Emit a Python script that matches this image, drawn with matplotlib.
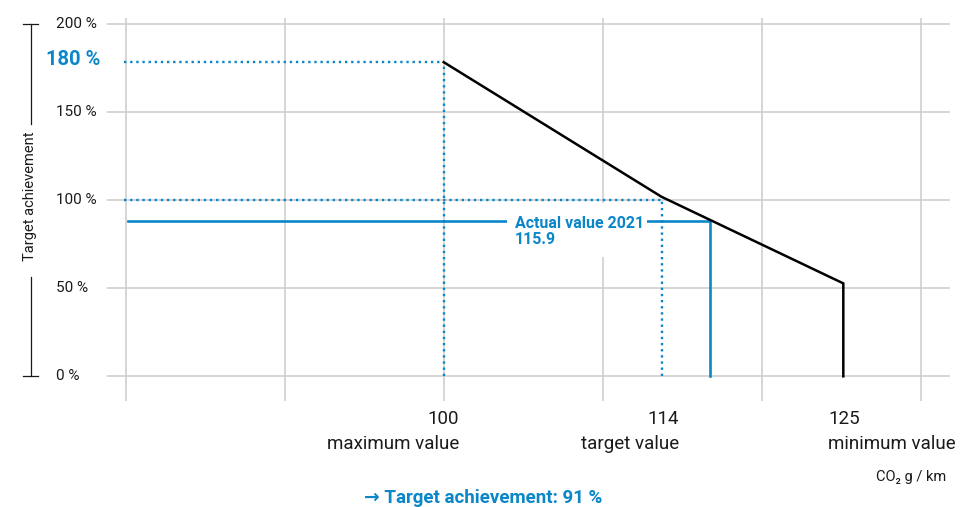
import matplotlib
matplotlib.use('Agg')
import matplotlib.pyplot as plt
import matplotlib.transforms as mtransforms
from matplotlib.patches import Rectangle

plt.rcParams['font.family'] = ['Roboto', 'DejaVu Sans']

BLUE = '#0a86c9'
GRID = '#cccccc'
TXT = '#1a1a1a'

# ---------------- data ----------------
y_ticks = [0, 50, 100, 150, 200]
y_tick_labels = ['0 %', '50 %', '100 %', '150 %', '200 %']
grid_cols = [0, 1, 2, 3, 4, 5]                 # schematic x grid columns
co2_values = ['100', '114', '125']
co2_names = ['maximum value', 'target value', 'minimum value']
co2_pos = [2.0, 3.37, 4.513]                    # schematic x positions of 100 / 114 / 125
curve_y = [178.5, 102, 52.8]                    # target achievement at those points (%)
max_pct = 180
target_pct = 100
actual_label = 'Actual value 2021'
actual_value = '115.9'
actual_pos = 3.675
actual_y = 88
result_text = '→ Target achievement: 91 %'

# ---------------- figure ----------------
W, H = 960, 507
fig = plt.figure(figsize=(W / 100, H / 100), dpi=100)
ax = fig.add_axes([106.7 / W, 1 - 400.7 / H, (950 - 106.7) / W, (400.7 - 18) / H])
ax.set_xlim(-0.1195, 5.184)
ax.set_ylim(-13.86, 203.6)
ax.axis('off')

for g in grid_cols:
    ax.axvline(g, color=GRID, lw=1.1, zorder=0)
for t in y_ticks:
    ax.axhline(t, color=GRID, lw=1.1, zorder=0)

# actual value (solid blue)
ax.plot([0.0125, actual_pos, actual_pos], [actual_y, actual_y, 0],
        color=BLUE, lw=1.9, zorder=2, solid_joinstyle='miter')

# white box behind the label
ax.add_patch(Rectangle((2.396, 67.8), 3.277 - 2.396, 98.5 - 67.8,
                       facecolor='white', edgecolor='none', zorder=3))
ax.text(2.448, 91.3, actual_label + '\n' + actual_value, ha='left', va='top',
        fontsize=11.5, fontweight='bold', color=BLUE, linespacing=1.1, zorder=4)

# dotted guides
dot = dict(color=BLUE, lw=1.7, linestyle=(0, (1, 1.6)), zorder=5)
ax.plot([-0.01, co2_pos[0]], [curve_y[0], curve_y[0]], **dot)
ax.plot([co2_pos[0], co2_pos[0]], [0, curve_y[0]], **dot)
ax.plot([-0.01, co2_pos[1]], [target_pct, target_pct], **dot)
ax.plot([co2_pos[1], co2_pos[1]], [0, target_pct], **dot)

# target achievement curve
ax.plot(co2_pos + [co2_pos[-1]], curve_y + [0], color='black', lw=1.8,
        zorder=6, solid_joinstyle='miter')

# y tick labels
ty = mtransforms.blended_transform_factory(fig.transFigure, ax.transData)
for t, lab in zip(y_ticks, y_tick_labels):
    ax.text(56 / W, t, lab, transform=ty, ha='left', va='center',
            fontsize=11, color=TXT)
ax.text(45.7 / W, max_pct, f'{max_pct} %', transform=ty, ha='left', va='center',
        fontsize=14.5, fontweight='bold', color=BLUE)

# y axis label with bracket lines
ax.text(30 / W, 102.5, 'Target achievement', transform=ty, rotation=90,
        ha='center', va='center', fontsize=10.5, color=TXT)
lk = dict(color=TXT, lw=0.9, transform=ty, clip_on=False)
ax.plot([30.7 / W, 30.7 / W], [y_ticks[-1], 143.4], **lk)
ax.plot([30.7 / W, 30.7 / W], [56.6, y_ticks[0]], **lk)
ax.plot([23 / W, 38 / W], [y_ticks[-1], y_ticks[-1]], **lk)
ax.plot([23 / W, 38 / W], [y_ticks[0], y_ticks[0]], **lk)

# x labels
tx = mtransforms.blended_transform_factory(ax.transData, fig.transFigure)
offs = [0.098, 0.11, -0.096]
has = ['right', 'right', 'left']
for p, v, n, o, ha in zip(co2_pos, co2_values, co2_names, offs, has):
    ax.text(p + o, 1 - 424 / H, v, transform=tx, ha=ha, va='baseline',
            fontsize=13.5, color=TXT)
    ax.text(p + o, 1 - 449 / H, n, transform=tx, ha=ha, va='baseline',
            fontsize=13.5, color=TXT)

fig.text(946.7 / W, 1 - 480.7 / H, 'CO₂ g / km', ha='right', va='baseline',
         fontsize=10.5, color=TXT)

fig.text(483 / W, 1 - 503 / H, result_text, ha='center', va='baseline',
         fontsize=13.5, fontweight='bold', color=BLUE)

fig.savefig('out.png', dpi=100)
